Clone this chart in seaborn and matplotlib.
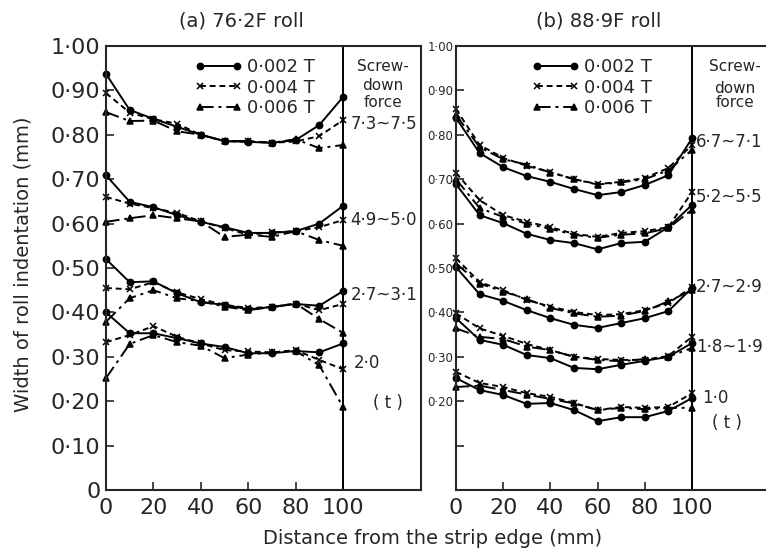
import matplotlib
matplotlib.use("Agg")
import matplotlib.pyplot as plt
from matplotlib.lines import Line2D
import pandas as pd
import seaborn as sns

# ---------------- data ----------------
distance = [0, 10, 20, 30, 40, 50, 60, 70, 80, 90, 100]
thickness_labels = ["0·002 T", "0·004 T", "0·006 T"]

# panel (a) 76.2F roll ; one list per screw-down force group
a_force_labels = ["7·3~7·5", "4·9~5·0", "2·7~3·1", "2·0"]
a_t002 = [
    [0.937, 0.856, 0.836, 0.818, 0.800, 0.786, 0.784, 0.782, 0.788, 0.822, 0.885],
    [0.709, 0.649, 0.637, 0.619, 0.604, 0.592, 0.579, 0.579, 0.583, 0.600, 0.640],
    [0.520, 0.468, 0.470, 0.443, 0.423, 0.417, 0.407, 0.412, 0.419, 0.415, 0.448],
    [0.400, 0.353, 0.353, 0.342, 0.330, 0.322, 0.308, 0.308, 0.313, 0.310, 0.330],
]
a_t004 = [
    [0.894, 0.850, 0.835, 0.825, 0.800, 0.785, 0.785, 0.782, 0.785, 0.797, 0.833],
    [0.660, 0.645, 0.635, 0.624, 0.605, 0.590, 0.575, 0.580, 0.583, 0.592, 0.608],
    [0.455, 0.452, 0.468, 0.445, 0.430, 0.417, 0.410, 0.412, 0.420, 0.405, 0.419],
    [0.333, 0.349, 0.369, 0.345, 0.330, 0.315, 0.312, 0.310, 0.315, 0.293, 0.272],
]
a_t006 = [
    [0.851, 0.831, 0.832, 0.808, 0.800, 0.786, 0.786, 0.782, 0.790, 0.770, 0.777],
    [0.604, 0.612, 0.619, 0.612, 0.605, 0.570, 0.575, 0.570, 0.583, 0.563, 0.550],
    [0.379, 0.432, 0.450, 0.432, 0.425, 0.413, 0.405, 0.412, 0.420, 0.385, 0.354],
    [0.252, 0.329, 0.349, 0.333, 0.325, 0.297, 0.305, 0.310, 0.313, 0.281, 0.187],
]

# panel (b) 88.9F roll
b_force_labels = ["6·7~7·1", "5·2~5·5", "2·7~2·9", "1·8~1·9", "1·0"]
b_t002 = [
    [0.838, 0.759, 0.727, 0.707, 0.694, 0.678, 0.664, 0.671, 0.687, 0.709, 0.792],
    [0.689, 0.619, 0.601, 0.577, 0.563, 0.556, 0.542, 0.556, 0.559, 0.592, 0.642],
    [0.502, 0.441, 0.426, 0.405, 0.387, 0.372, 0.365, 0.376, 0.387, 0.403, 0.455],
    [0.387, 0.338, 0.327, 0.304, 0.297, 0.275, 0.272, 0.282, 0.291, 0.300, 0.331],
    [0.252, 0.225, 0.214, 0.194, 0.196, 0.180, 0.155, 0.164, 0.164, 0.178, 0.207],
]
b_t004 = [
    [0.858, 0.777, 0.748, 0.730, 0.716, 0.700, 0.689, 0.694, 0.703, 0.725, 0.777],
    [0.714, 0.653, 0.619, 0.604, 0.592, 0.577, 0.570, 0.579, 0.583, 0.592, 0.671],
    [0.522, 0.468, 0.450, 0.428, 0.413, 0.401, 0.394, 0.396, 0.405, 0.421, 0.457],
    [0.398, 0.364, 0.347, 0.329, 0.315, 0.300, 0.295, 0.293, 0.293, 0.302, 0.345],
    [0.266, 0.241, 0.232, 0.218, 0.210, 0.196, 0.180, 0.187, 0.185, 0.187, 0.218],
]
b_t006 = [
    [0.845, 0.772, 0.745, 0.733, 0.715, 0.700, 0.688, 0.693, 0.700, 0.720, 0.766],
    [0.700, 0.635, 0.615, 0.600, 0.588, 0.575, 0.568, 0.575, 0.578, 0.590, 0.631],
    [0.510, 0.465, 0.447, 0.430, 0.410, 0.398, 0.390, 0.393, 0.403, 0.425, 0.450],
    [0.364, 0.345, 0.340, 0.323, 0.315, 0.300, 0.293, 0.290, 0.295, 0.300, 0.320],
    [0.232, 0.235, 0.225, 0.215, 0.205, 0.195, 0.180, 0.185, 0.182, 0.185, 0.185],
]

x_ticks = [0, 20, 40, 60, 80, 100]
x_tick_labels = ["0", "20", "40", "60", "80", "100"]
y_ticks = [0.0, 0.1, 0.2, 0.3, 0.4, 0.5, 0.6, 0.7, 0.8, 0.9, 1.0]
y_tick_labels = ["0", "0·10", "0·20", "0·30", "0·40", "0·50",
                 "0·60", "0·70", "0·80", "0·90", "1·00"]
b_y_tick_labels = ["", "", "0·20", "0·30", "0·40", "0·50",
                   "0·60", "0·70", "0·80", "0·90", "1·00"]

# ---------------- build long table ----------------
rows = []
for panel, series in (("a", (a_t002, a_t004, a_t006)),
                      ("b", (b_t002, b_t004, b_t006))):
    for tlab, groups in zip(thickness_labels, series):
        for gi, vals in enumerate(groups):
            for d, v in zip(distance, vals):
                rows.append({"panel": panel, "thickness": tlab,
                             "group": gi, "distance": d, "width": v})
df = pd.DataFrame(rows)

# ---------------- style ----------------
sns.set_style("ticks")
plt.rcParams["font.family"] = ["DejaVu Sans"]
plt.rcParams["axes.linewidth"] = 1.5

W, H = 766, 556
fig = plt.figure(figsize=(W / 100, H / 100), dpi=100)

def frac_box(x0, x1, ytop, ybot):
    return [x0 / W, (H - ybot) / H, (x1 - x0) / W, (ybot - ytop) / H]

ax_a = fig.add_axes(frac_box(106, 421, 46, 490))
ax_b = fig.add_axes(frac_box(456, 766, 46, 490))
ax_a.set_xlim(0, (421 - 106) / 2.37)
ax_b.set_xlim(0, (766 - 456) / 2.36)

line_styles = {
    "0·002 T": dict(marker="o", linestyle="-", markersize=4.5),
    "0·004 T": dict(marker="x", linestyle=(0, (3, 2)), markersize=5),
    "0·006 T": dict(marker="^", linestyle=(0, (7, 2.5, 1.5, 2.5)), markersize=5),
}

for ax, panel in ((ax_a, "a"), (ax_b, "b")):
    for tlab in thickness_labels:
        sub = df[(df.panel == panel) & (df.thickness == tlab)]
        sns.lineplot(data=sub, x="distance", y="width", units="group",
                     estimator=None, color="black", lw=1.4,
                     markeredgecolor="black", markerfacecolor="black",
                     markeredgewidth=1.1, clip_on=False, legend=False,
                     ax=ax, **line_styles[tlab])
    ax.axvline(100, color="black", lw=1.4)
    ax.set_ylim(0, 1.0)
    ax.set_xticks(x_ticks)
    ax.set_xticklabels(x_tick_labels, fontsize=16)
    ax.set_yticks(y_ticks)
    ax.set_xlabel("")
    ax.set_ylabel("")
    ax.tick_params(direction="in", length=6, width=1.2, pad=6)
    handles = [Line2D([], [], color="black", lw=1.4, markeredgecolor="black",
                      markerfacecolor="black", markeredgewidth=1.1,
                      **line_styles[t]) for t in thickness_labels]
    ax.legend(handles, thickness_labels, loc="upper left", numpoints=2,
              bbox_to_anchor=((195 - 106) / 315 if panel == "a" else (532 - 456) / 310, 0.973),
              frameon=False, fontsize=13, handlelength=2.6, handletextpad=0.3,
              labelspacing=0.15, borderpad=0, borderaxespad=0)

ax_a.set_yticklabels(y_tick_labels, fontsize=16)
ax_a.tick_params(axis="y", pad=4)
ax_b.set_yticklabels(b_y_tick_labels, fontsize=8.5)
ax_b.tick_params(axis="y", pad=2)
ax_b.spines["right"].set_visible(False)

# right-hand "screw-down force" annotations
def force_notes(ax, xc, header_y, labels, label_pos, t_pos):
    ax.text(xc, header_y[0], "Screw-", ha="center", va="center", fontsize=11)
    ax.text(xc, header_y[1], "down", ha="center", va="center", fontsize=11)
    ax.text(xc, header_y[2], "force", ha="center", va="center", fontsize=11)
    for lab, (xx, yy) in zip(labels, label_pos):
        ax.text(xx, yy, lab, ha="left", va="center", fontsize=12)
    ax.text(t_pos[0], t_pos[1], "( t )", ha="center", va="center", fontsize=12)

force_notes(ax_a, 116.9, (0.953, 0.910, 0.872), a_force_labels,
            [(103.2, 0.824), (103.2, 0.608), (103.2, 0.439), (104.5, 0.286)],
            (119, 0.196))
force_notes(ax_b, 118.2, (0.953, 0.905, 0.872), b_force_labels,
            [(101.8, 0.784), (101.8, 0.660), (101.8, 0.457), (101.8, 0.322),
             (104.2, 0.207)],
            (114.8, 0.151))

fig.text(241 / W, 1 - 21 / H, "(a) 76·2F roll", ha="center", va="center", fontsize=14)
fig.text(599 / W, 1 - 21 / H, "(b) 88·9F roll", ha="center", va="center", fontsize=14)
fig.text(433 / W, 1 - 539 / H, "Distance from the strip edge (mm)",
         ha="center", va="center", fontsize=14)
fig.text(23 / W, 1 - 264 / H, "Width of roll indentation (mm)",
         ha="center", va="center", rotation=90, fontsize=14)

fig.savefig("out.png", dpi=100)
